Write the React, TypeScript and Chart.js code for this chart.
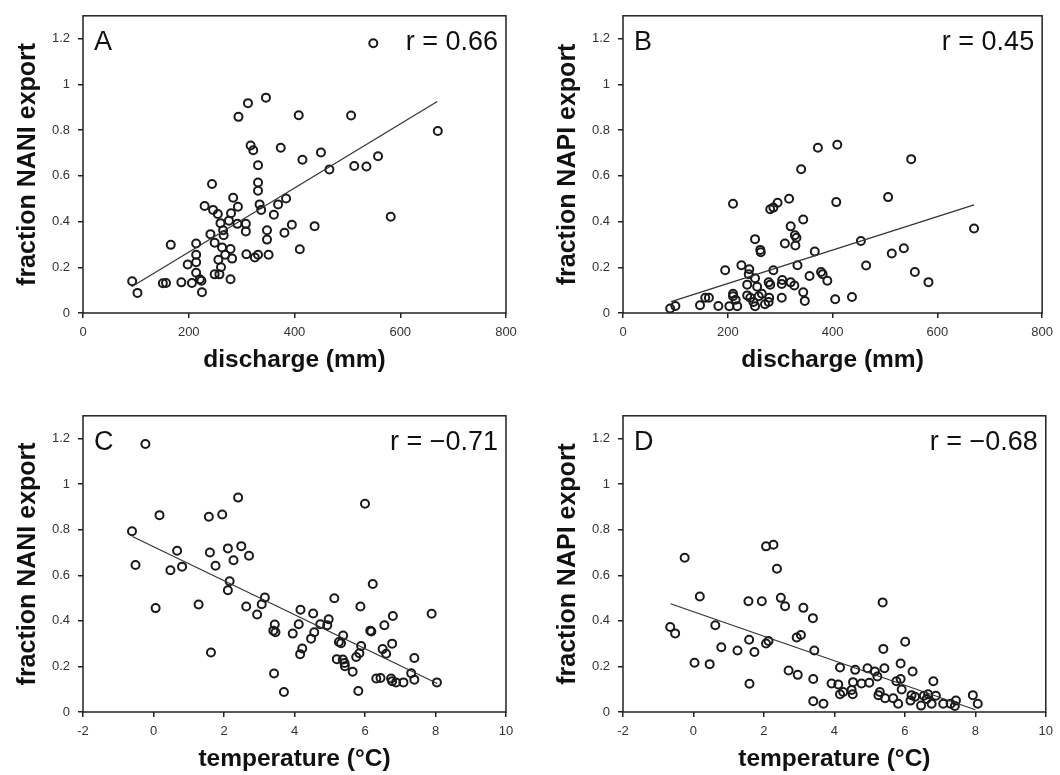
import React, { useEffect, useRef } from 'react';
import { Chart, registerables } from 'chart.js';

Chart.register(...registerables);

// ---------- Panel A: discharge vs fraction NANI export ----------
const dischargeA = [549, 346, 312, 294, 408, 507, 671, 317, 322, 374, 450, 558, 513, 536, 582, 93, 103,
  331, 415, 466, 244, 331, 331, 284, 384, 230, 293, 334, 369, 337, 246, 255, 280, 361, 260, 276, 292, 308,
  395, 438, 265, 308, 348, 381, 241, 266, 249, 214, 166, 263, 279, 348, 410, 269, 256, 282, 309, 325, 331,
  351, 214, 214, 198, 261, 214, 249, 258, 279, 221, 224, 206, 186, 151, 157, 225];
const naniA = [1.18, 0.942, 0.918, 0.858, 0.865, 0.864, 0.796, 0.733, 0.712, 0.723, 0.702, 0.686, 0.643, 0.641, 0.421, 0.139, 0.088,
  0.646, 0.670, 0.628, 0.564, 0.571, 0.535, 0.504, 0.501, 0.468, 0.465, 0.475, 0.475, 0.451, 0.451, 0.433, 0.436, 0.43, 0.393, 0.404, 0.39, 0.39,
  0.386, 0.38, 0.362, 0.357, 0.362, 0.351, 0.345, 0.34, 0.307, 0.304, 0.298, 0.287, 0.28, 0.321, 0.279, 0.255, 0.233, 0.238, 0.257, 0.243, 0.255,
  0.255, 0.255, 0.222, 0.212, 0.2, 0.176, 0.169, 0.169, 0.148, 0.148, 0.141, 0.131, 0.134, 0.13, 0.131, 0.091];
const trendA_x = [92, 670];
const trendA_y = [0.115, 0.925];

// ---------- Panel B: discharge vs fraction NAPI export ----------
const dischargeB = [409, 372, 550, 340, 506, 670, 513, 536, 557, 583,
  210, 281, 287, 295, 317, 407, 344, 320, 328, 331, 309, 329, 252, 262, 263, 366, 454, 464, 333, 195,
  226, 241, 240, 252, 287, 356, 378, 381, 390, 237, 256, 278, 281, 304, 303, 320, 327, 344, 347, 157,
  164, 147, 182, 203, 210, 210, 215, 218, 237, 243, 249, 252, 259, 265, 271, 278, 279, 303, 405, 437, 90, 100];
const napiB = [0.736, 0.723, 0.673, 0.629, 0.507, 0.370, 0.26, 0.283, 0.179, 0.135,
  0.478, 0.454, 0.461, 0.482, 0.5, 0.485, 0.409, 0.379, 0.34, 0.329, 0.304, 0.295, 0.323, 0.276, 0.266, 0.269, 0.315, 0.208, 0.209, 0.187,
  0.209, 0.191, 0.17, 0.152, 0.187, 0.162, 0.179, 0.17, 0.141, 0.124, 0.115, 0.134, 0.124, 0.144, 0.127, 0.134, 0.12, 0.091, 0.053, 0.067,
  0.067, 0.034, 0.031, 0.03, 0.084, 0.073, 0.058, 0.03, 0.077, 0.067, 0.048, 0.03, 0.073, 0.084, 0.038, 0.048, 0.067, 0.067, 0.06, 0.07, 0.02, 0.031];
const trendB_x = [92, 670];
const trendB_y = [0.05, 0.473];

// ---------- Panel C: temperature vs fraction NANI export ----------
const tempC = [-0.23, 0.17, 1.57, 1.95, 2.40, 6.0, -0.61, 0.67, 1.6, 2.11, 2.49, 2.27, 2.71, -0.51, 1.76, 0.48, 0.81,
  2.16, 2.11, 6.22, 3.16, 5.13, 0.06, 1.28, 2.63, 3.07, 4.17, 4.53, 5.87, 6.79, 7.89, 2.94, 3.44, 4.12, 4.73,
  4.97, 4.93, 6.55, 3.40, 3.46, 3.95, 4.56, 4.47, 5.38, 6.15, 6.18, 5.26, 5.32, 5.89, 6.77, 4.22, 4.16, 1.63,
  6.5, 6.6, 5.84, 5.75, 5.2, 5.37, 5.42, 5.43, 7.40, 5.65, 7.31, 3.42, 6.32, 6.44, 6.74, 6.77, 6.88, 7.09, 7.40,
  8.04, 3.70, 5.81];
const naniC = [1.176, 0.864, 0.857, 0.867, 0.941, 0.914, 0.793, 0.708, 0.7, 0.718, 0.728, 0.666, 0.686, 0.645, 0.642, 0.622, 0.638,
  0.574, 0.534, 0.562, 0.502, 0.499, 0.456, 0.472, 0.463, 0.473, 0.449, 0.432, 0.463, 0.421, 0.431, 0.428, 0.384, 0.385, 0.385,
  0.407, 0.381, 0.381, 0.357, 0.35, 0.344, 0.35, 0.322, 0.336, 0.357, 0.353, 0.307, 0.302, 0.29, 0.3, 0.279, 0.254, 0.261,
  0.276, 0.256, 0.258, 0.241, 0.232, 0.23, 0.215, 0.201, 0.237, 0.177, 0.17, 0.169, 0.147, 0.149, 0.147, 0.135, 0.13, 0.13, 0.142,
  0.13, 0.088, 0.092];
const trendC_x = [-0.6, 8.05];
const trendC_y = [0.77, 0.125];

// ---------- Panel D: temperature vs fraction NAPI export ----------
const tempD = [2.27, 2.06, -0.25, 2.37, 0.18, 2.48, 1.56, 1.94, 5.37, 2.6, 3.12, 3.39, 0.62, -0.66, -0.52, 3.05, 2.93,
  1.58, 2.13, 2.06, 6.01, 0.79, 1.25, 1.73, 3.43, 5.39, 0.03, 0.46, 5.88, 2.70, 2.96, 4.16, 4.59, 4.94, 5.15,
  5.42, 6.22, 5.22, 1.59, 3.4, 3.92, 4.11, 4.53, 4.77, 4.99, 5.76, 5.88, 5.91, 6.81, 4.16, 4.25, 4.49, 4.52,
  5.29, 5.25, 5.44, 5.67, 5.81, 6.19, 6.16, 6.29, 6.46, 6.54, 6.66, 6.62, 6.76, 6.88, 7.09, 7.30, 7.45, 7.42,
  7.93, 8.07, 3.40, 3.69];
const napiD = [0.734, 0.727, 0.677, 0.629, 0.507, 0.501, 0.486, 0.486, 0.481, 0.464, 0.457, 0.412, 0.381, 0.373, 0.345, 0.338, 0.327,
  0.317, 0.312, 0.301, 0.308, 0.284, 0.27, 0.263, 0.27, 0.277, 0.216, 0.21, 0.213, 0.182, 0.163, 0.195, 0.185, 0.192, 0.178,
  0.192, 0.178, 0.156, 0.124, 0.145, 0.125, 0.121, 0.131, 0.125, 0.128, 0.135, 0.145, 0.099, 0.135, 0.078, 0.088, 0.097, 0.078,
  0.088, 0.074, 0.06, 0.06, 0.036, 0.074, 0.05, 0.067, 0.028, 0.071, 0.078, 0.057, 0.036, 0.071, 0.036, 0.036, 0.05, 0.026,
  0.074, 0.036, 0.047, 0.036];
const trendD_x = [-0.65, 8.0];
const trendD_y = [0.475, 0.01];

const yTickValues = [0, 0.2, 0.4, 0.6, 0.8, 1, 1.2];

const FONT = '"Liberation Sans", Arial, Helvetica, sans-serif';
const INK = '#1a1a1a';

type PanelProps = {
  xs: number[];
  ys: number[];
  tx: number[];
  ty: number[];
  xMin: number;
  xMax: number;
  xStep: number;
  xTitle: string;
  yTitle: string;
  letter: string;
  rText: string;
  left: number;
  top: number;
  width: number;
  height: number;
  padRight: number;
};

const framePlugin = {
  id: 'frameAndLabels',
  afterDraw(chart: any, _args: any, opts: any) {
    const { ctx, chartArea } = chart;
    const { left, right, top, bottom } = chartArea;
    ctx.save();
    ctx.strokeStyle = '#222';
    ctx.lineWidth = 1.5;
    ctx.strokeRect(left, top, right - left, bottom - top);
    ctx.fillStyle = '#111';
    ctx.font = `27px ${FONT}`;
    ctx.textBaseline = 'alphabetic';
    ctx.textAlign = 'left';
    ctx.fillText(opts.letter, left + 11, top + 34);
    ctx.textAlign = 'right';
    ctx.fillText(opts.rText, right - 8, top + 34);
    ctx.restore();
  },
};

function Panel(p: PanelProps) {
  const ref = useRef<HTMLCanvasElement>(null);
  useEffect(() => {
    if (!ref.current) return;
    const chart = new Chart(ref.current, {
      type: 'scatter',
      data: {
        datasets: [
          {
            type: 'line',
            data: p.tx.map((x, i) => ({ x, y: p.ty[i] })),
            borderColor: '#333',
            borderWidth: 1.2,
            pointRadius: 0,
            fill: false,
            tension: 0,
          } as any,
          {
            type: 'scatter',
            data: p.xs.map((x, i) => ({ x, y: p.ys[i] })),
            pointRadius: 4,
            pointHoverRadius: 4,
            borderWidth: 2,
            borderColor: INK,
            backgroundColor: 'rgba(0,0,0,0)',
          } as any,
        ],
      },
      options: {
        responsive: false,
        animation: false,
        devicePixelRatio: 1,
        events: [],
        layout: { padding: { top: 7, right: p.padRight, bottom: 0, left: 0 } },
        plugins: {
          legend: { display: false },
          tooltip: { enabled: false },
          frameAndLabels: { letter: p.letter, rText: p.rText },
        } as any,
        scales: {
          x: {
            type: 'linear',
            min: p.xMin,
            max: p.xMax,
            afterFit: (s: any) => {
              s.height = 63;
            },
            ticks: {
              stepSize: p.xStep,
              padding: 7,
              color: '#333',
              font: { family: FONT, size: 13 },
              callback: (v: any) => String(v),
            },
            grid: {
              display: true,
              drawOnChartArea: false,
              drawTicks: true,
              tickLength: 5,
              color: '#222',
              lineWidth: 1.5,
            },
            border: { display: false },
            title: {
              display: true,
              text: p.xTitle,
              color: '#111',
              font: { family: FONT, size: 24.5, weight: 'bold' },
              padding: { top: 0, bottom: 1 },
            },
          },
          y: {
            type: 'linear',
            min: 0,
            max: 1.3,
            afterFit: (s: any) => {
              s.width = 83;
            },
            afterBuildTicks: (s: any) => {
              s.ticks = yTickValues.map((v) => ({ value: v }));
            },
            ticks: {
              padding: 8,
              color: '#333',
              font: { family: FONT, size: 13 },
              callback: (v: any) => String(Math.round(Number(v) * 10) / 10),
            },
            grid: {
              display: true,
              drawOnChartArea: false,
              drawTicks: true,
              tickLength: 5,
              color: '#222',
              lineWidth: 1.5,
            },
            border: { display: false },
            title: {
              display: true,
              text: p.yTitle,
              color: '#111',
              font: { family: FONT, size: 25, weight: 'bold' },
              padding: { top: 13, bottom: 0 },
            },
          },
        },
      } as any,
      plugins: [framePlugin],
    });
    return () => chart.destroy();
  }, []);
  return (
    <canvas
      ref={ref}
      width={p.width}
      height={p.height}
      style={{ position: 'absolute', left: p.left, top: p.top, width: p.width, height: p.height }}
    />
  );
}

export default function App() {
  return (
    <div style={{ position: 'absolute', left: 0, top: 0, width: 1060, height: 775, background: '#fff' }}>
      <Panel xs={dischargeA} ys={naniA} tx={trendA_x} ty={trendA_y} xMin={0} xMax={800} xStep={200}
        xTitle="discharge (mm)" yTitle="fraction NANI export" letter="A" rText="r = 0.66"
        left={0} top={0} width={540} height={376} padRight={34} />
      <Panel xs={dischargeB} ys={napiB} tx={trendB_x} ty={trendB_y} xMin={0} xMax={800} xStep={200}
        xTitle="discharge (mm)" yTitle="fraction NAPI export" letter="B" rText="r = 0.45"
        left={540} top={0} width={520} height={376} padRight={13} />
      <Panel xs={tempC} ys={naniC} tx={trendC_x} ty={trendC_y} xMin={-2} xMax={10} xStep={2}
        xTitle="temperature (°C)" yTitle="fraction NANI export" letter="C" rText="r = −0.71"
        left={0} top={400} width={540} height={375} padRight={34} />
      <Panel xs={tempD} ys={napiD} tx={trendD_x} ty={trendD_y} xMin={-2} xMax={10} xStep={2}
        xTitle="temperature (°C)" yTitle="fraction NAPI export" letter="D" rText="r = −0.68"
        left={540} top={400} width={520} height={375} padRight={13} />
    </div>
  );
}
